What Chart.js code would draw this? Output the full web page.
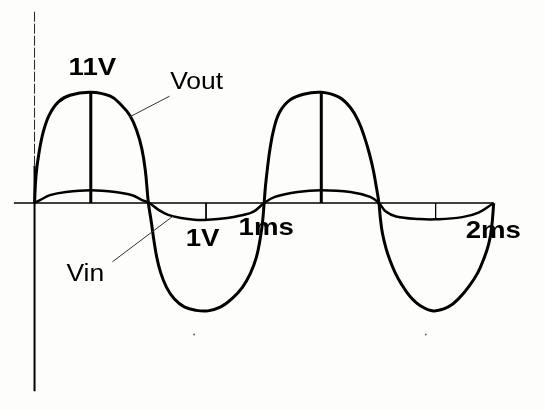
<!DOCTYPE html>
<html>
<head>
<meta charset="utf-8">
<script src="https://cdn.jsdelivr.net/npm/chart.js@4.4.1/dist/chart.umd.min.js"></script>
<style>
html, body { margin: 0; padding: 0; background: #fdfdfb; }
canvas { display: block; }
</style>
</head>
<body>
<canvas id="wave" width="545" height="410"></canvas>
<script>
// time in ms, voltage in V
const voutT = [0, 0.0064, 0.0193, 0.0386, 0.0644, 0.103, 0.1545, 0.2446, 0.3304, 0.3776, 0.4162, 0.4463, 0.4677, 0.4828, 0.496,
    0.5085, 0.5192, 0.5321, 0.5493, 0.575, 0.6093, 0.6522, 0.7037, 0.7552, 0.811, 0.8625, 0.9054, 0.9397, 0.9655, 0.9826, 0.9933, 1.0,
    1.0062, 1.0148, 1.0255, 1.0427, 1.0685, 1.1114, 1.1714, 1.2487, 1.3259, 1.3774, 1.4117, 1.4375, 1.4589, 1.4761, 1.489, 1.5,
    1.5061, 1.5147, 1.5319, 1.549, 1.5705, 1.5962, 1.6348, 1.682, 1.7378, 1.8022, 1.8494, 1.8923, 1.9309, 1.9567, 1.9781, 1.991, 2.0]
const voutV = [0, 2.73, 4.97, 7.11, 8.76, 10.03, 10.71, 11.0, 10.61, 9.74, 8.67, 7.11, 5.36, 3.21, 0,
    -1.85, -3.6, -5.36, -6.91, -8.37, -9.54, -10.32, -10.66, -10.71, -10.32, -9.44, -8.37, -7.01, -5.45, -3.6, -1.85, 0,
    1.75, 3.51, 5.36, 7.4, 9.06, 10.22, 10.81, 11.0, 10.52, 9.44, 8.08, 6.52, 4.87, 3.21, 1.56, 0,
    -1.46, -2.92, -4.58, -5.74, -6.91, -7.98, -9.25, -10.22, -10.71, -10.32, -9.44, -8.28, -6.91, -5.55, -4.09, -2.43, 0]

const vinT = [0, 0.024, 0.067, 0.137, 0.245, 0.352, 0.425, 0.468, 0.5,
    0.540, 0.582, 0.639, 0.697, 0.754, 0.840, 0.897, 0.954, 1.0,
    1.047, 1.146, 1.249, 1.376, 1.462, 1.5,
    1.530, 1.575, 1.676, 1.747, 1.863, 1.934, 2.0]
const vinV = [0, 0.29, 0.78, 1.1, 1.27, 1.1, 0.78, 0.29, 0,
    -0.68, -1.17, -1.49, -1.66, -1.66, -1.49, -1.24, -0.85, 0,
    0.61, 1.1, 1.27, 1.1, 0.61, 0,
    -0.85, -1.33, -1.59, -1.62, -1.40, -0.95, 0]

const peakT = [0.245, 1.249]     // Vout peak markers
const peakV = 11
const troughT = [0.747, 1.747]   // small ticks down to Vin
const troughV = -1.66
const dotT = [0.695, 1.704]
const dotV = -13.05

const labelTexts = ['11V', 'Vout', 'Vin', '1V', '1ms', '2ms']

const toPoints = (ts, vs) => ts.map((t, i) => ({ x: t, y: vs[i] }))

// vertical segments with gaps between them
function segments(ts, top) {
    const pts = []
    ts.forEach(t => {
        pts.push({ x: t, y: 0 }, { x: t, y: top }, { x: t, y: null })
    })
    return pts
}

const ink = '#000'

const labelPlugin = {
    id: 'sketchLabels',
    beforeDatasetsDraw(chart) {
        const { ctx, scales: { x, y } } = chart
        const spots = [
            { t: 0.252, v: 12.69, bold: true },
            { t: 0.706, v: 11.32, bold: false },
            { t: 0.221, v: -7.79, bold: false },
            { t: 0.732, v: -4.26, bold: true },
            { t: 1.009, v: -3.18, bold: true },
            { t: 1.998, v: -3.44, bold: true }
        ]
        ctx.save()
        ctx.fillStyle = ink
        ctx.textAlign = 'center'
        ctx.textBaseline = 'alphabetic'
        labelTexts.forEach((txt, i) => {
            const s = spots[i]
            ctx.save()
            ctx.translate(x.getPixelForValue(s.t), y.getPixelForValue(s.v))
            ctx.scale(1.15, 1)
            ctx.font = (s.bold ? 'bold 24px' : '23px') + ' "Liberation Sans", Arial, sans-serif'
            ctx.fillText(txt, 0, 0)
            ctx.restore()
        })
        ctx.restore()
    }
}

new Chart(document.getElementById('wave'), {
    type: 'line',
    data: {
        datasets: [
            {   // horizontal axis
                data: [{ x: -0.09, y: 0 }, { x: 2.0, y: 0 }],
                borderColor: ink, borderWidth: 1.5, tension: 0
            },
            {   // vertical axis, dashed upper part
                data: [{ x: 0, y: 19.0 }, { x: 0, y: 3.7 }],
                borderColor: '#222', borderWidth: 1, borderDash: [10, 2], tension: 0
            },
            {   // vertical axis, solid lower part
                data: [{ x: 0, y: 3.7 }, { x: 0, y: -18.7 }],
                borderColor: ink, borderWidth: 2, tension: 0
            },
            {
                data: segments(peakT, peakV),
                borderColor: ink, borderWidth: 3, spanGaps: false, tension: 0
            },
            {
                data: segments(troughT, troughV),
                borderColor: ink, borderWidth: 1, spanGaps: false, tension: 0
            },
            {   // leader lines
                data: [{ x: 0.588, y: 10.61 }, { x: 0.416, y: 8.57 }, { x: 0.5, y: null },
                       { x: 0.339, y: -5.84 }, { x: 0.605, y: -1.27 }],
                borderColor: '#333', borderWidth: 1, spanGaps: false, tension: 0
            },
            {
                label: 'Vin',
                data: toPoints(vinT, vinV),
                borderColor: ink, borderWidth: 2.5, tension: 0.4
            },
            {
                label: 'Vout',
                data: toPoints(voutT, voutV),
                borderColor: ink, borderWidth: 3, tension: 0.4
            },
            {
                data: dotT.map(t => ({ x: t, y: dotV })),
                showLine: false, pointRadius: 1, pointBackgroundColor: '#666', pointBorderWidth: 0
            }
        ]
    },
    options: {
        responsive: false,
        animation: false,
        devicePixelRatio: 1,
        layout: { padding: 0 },
        elements: { point: { radius: 0 } },
        plugins: { legend: { display: false }, tooltip: { enabled: false } },
        scales: {
            x: { type: 'linear', min: -0.133, max: 2.206, display: false },
            y: { min: -20.156, max: 19.766, display: false }
        }
    },
    plugins: [labelPlugin]
})
</script>
</body>
</html>
